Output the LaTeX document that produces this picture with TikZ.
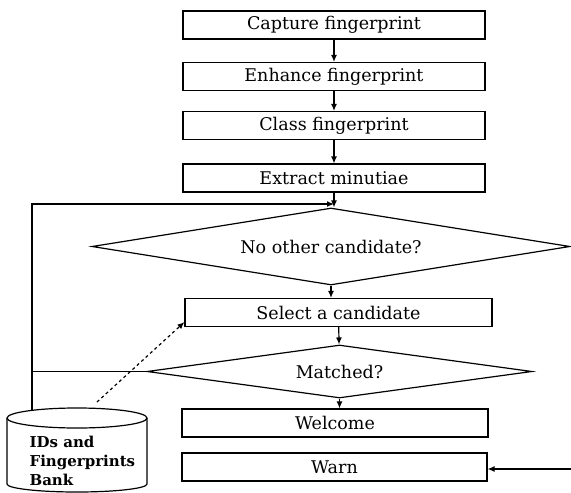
\documentclass[tikz,border=0pt]{standalone}
\usepackage{fontspec}
\setmainfont{DejaVu Serif}
\usetikzlibrary{shapes.geometric,arrows.meta}
\begin{document}
\begin{tikzpicture}[x=1pt,y=-1pt,line width=1.2pt,
		box/.style={draw,minimum width=302,minimum height=28,inner sep=0,font=\fontsize{17.5}{20}\selectfont},
		test/.style={draw,diamond,inner sep=0,aspect=5,font=\fontsize{17.5}{20}\selectfont},
		arr/.style={-{Latex[length=7pt,width=6pt]}}]
	\useasboundingbox (0,0) rectangle (571,493);
	\node[box] (cap) at (334,25) {Capture fingerprint};
	\node[box] (enh) at (334,76.5) {Enhance fingerprint};
	\node[box] (cls) at (334,125.5) {Class fingerprint};
	\node[box] (ext) at (334,178) {Extract minutiae};
	\node[test,minimum width=478,minimum height=77] (other) at (331,246.5) {No other candidate?};
	\node[box,minimum width=307] (sel) at (338.5,312.5) {Select a candidate};
	\node[test,minimum width=385,minimum height=53] (match) at (339.5,371.5) {Matched?};
	\node[box,minimum width=306] (wel) at (335,423) {Welcome};
	\node[box,minimum width=305] (warn) at (334.5,467) {Warn};
	\draw (7,418) -- (7,484) arc[start angle=180,end angle=0,x radius=70,y radius=8] -- (147,418);
	\draw (77,418) ellipse[x radius=70,y radius=10];
	\node[anchor=north west,align=left,inner sep=0,font=\bfseries\fontsize{15}{19}\selectfont] (banktxt) at (29,435) {IDs and\\Fingerprints\\Bank};
	\coordinate (bank) at (97,402);
	\coordinate (loop) at (32,410.3);
	\coordinate (fb) at (334,204);
	\coordinate (edge) at (571,469);
	\draw[arr] (cap) -- (enh);
	\draw[arr] (enh) -- (cls);
	\draw[arr] (cls) -- (ext);
	\draw[arr] (ext.south) -- (ext.south |- other.north);
	\draw[arr] (loop) |- (fb);
	\draw[arr] (other.south) -- (other.south |- sel.north);
	\draw[arr] (sel) -- (match);
	\draw[arr] (match.south) -- (match.south |- wel.north);
	\draw (match.west) -- (match.west -| loop);
	\draw[arr,dashed] (bank) -- ([yshift=5pt]sel.south west);
	\draw[arr] (edge) -- (warn.east |- edge);
\end{tikzpicture}
\end{document}
